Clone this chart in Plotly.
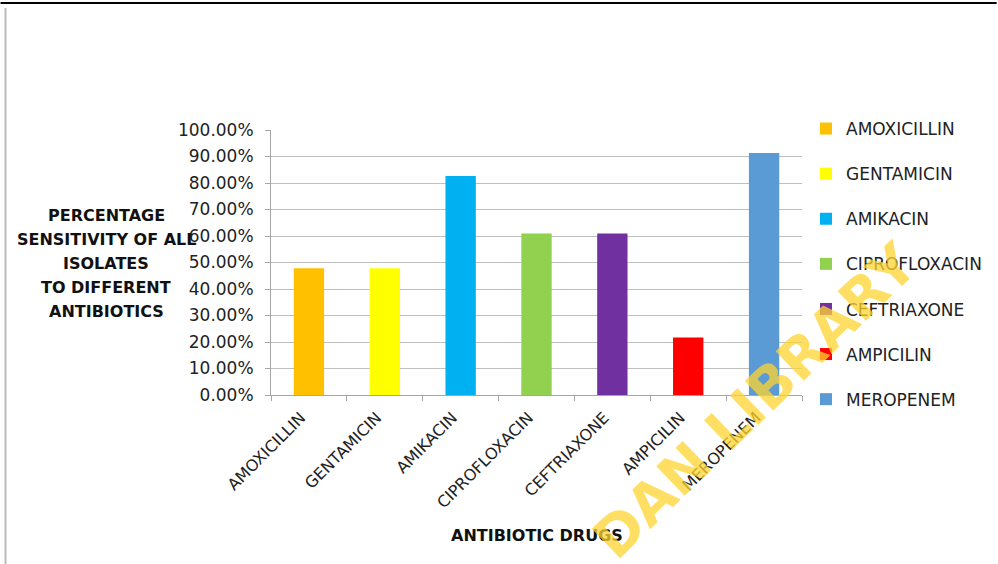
import plotly.graph_objects as go

categories = ["AMOXICILLIN", "GENTAMICIN", "AMIKACIN", "CIPROFLOXACIN",
              "CEFTRIAXONE", "AMPICILIN", "MEROPENEM"]
sensitivity = [0.478, 0.478, 0.826, 0.609, 0.609, 0.217, 0.913]
colors = ["#FFC000", "#FFFF00", "#00B0F0", "#92D050", "#7030A0", "#FF0000", "#5B9BD5"]
y_title_lines = ["PERCENTAGE", "SENSITIVITY OF ALL", "ISOLATES", "TO DIFFERENT", "ANTIBIOTICS"]
x_title = "ANTIBIOTIC DRUGS"
watermark = "DAN LIBRARY"

W, H = 998, 564
L, R, T, B = 271, 195, 130, 169
pw, ph = W - L - R, H - T - B

def px(p):
    return (p - L) / pw

def py(q):
    return (H - B - q) / ph

FONT = "DejaVu Sans"

fig = go.Figure()
for i, (c, v, col) in enumerate(zip(categories, sensitivity, colors)):
    fig.add_trace(go.Bar(x=[c], y=[v], name=c, marker=dict(color=col, line=dict(width=0)),
                         width=0.4, legendgroup=c, showlegend=True))

annotations = []
for i, line in enumerate(y_title_lines):
    annotations.append(dict(text="<b>%s</b>" % line, x=px(106), y=py(215 + 24 * i),
                            xref="paper", yref="paper", showarrow=False,
                            xanchor="center", yanchor="middle",
                            font=dict(family=FONT, size=16, color="#111111")))
annotations.append(dict(text="<b>%s</b>" % x_title, x=px(537), y=py(535),
                        xref="paper", yref="paper", showarrow=False,
                        xanchor="center", yanchor="middle",
                        font=dict(family=FONT, size=16, color="#111111")))
annotations.append(dict(text="<b>%s</b>" % watermark, x=px(756), y=py(400),
                        xref="paper", yref="paper", showarrow=False, textangle=-44,
                        xanchor="center", yanchor="middle", opacity=0.75,
                        font=dict(family="DejaVu Sans", size=56, color="#FFD530")))

shapes = [
    dict(type="line", xref="paper", yref="paper", x0=px(0), x1=px(998), y0=py(3), y1=py(3),
         line=dict(color="#000000", width=2)),
    dict(type="line", xref="paper", yref="paper", x0=px(5), x1=px(5), y0=py(8), y1=py(564),
         line=dict(color="#BBBBBB", width=2)),
]

fig.update_layout(
    width=W, height=H,
    margin=dict(l=L, r=R, t=T, b=B),
    paper_bgcolor="white", plot_bgcolor="white",
    barmode="overlay",
    font=dict(family=FONT, size=17, color="#222222"),
    showlegend=True,
    legend=dict(x=px(806), y=py(111), xanchor="left", yanchor="top",
                traceorder="grouped", tracegroupgap=20, maxheight=0.95,
                font=dict(family=FONT, size=17, color="#222222"),
                bgcolor="rgba(0,0,0,0)"),
    annotations=annotations,
    shapes=shapes,
    xaxis=dict(tickangle=-45, showgrid=False, showline=True, linecolor="#A6A6A6",
               ticks="outside", tickson="boundaries", ticklen=5, tickcolor="#A6A6A6",
               ticklabelshift=-8, ticklabelstandoff=6,
               tickfont=dict(family=FONT, size=16, color="#222222")),
    yaxis=dict(range=[0, 1], dtick=0.1, tickformat=".2%", showgrid=True,
               gridcolor="#BFBFBF", gridwidth=1, showline=True, linecolor="#A6A6A6",
               ticks="outside", ticklen=5, tickcolor="#A6A6A6", zeroline=False,
               ticklabelstandoff=8,
               tickfont=dict(family=FONT, size=17, color="#222222")),
)

fig.write_html("out.html")
